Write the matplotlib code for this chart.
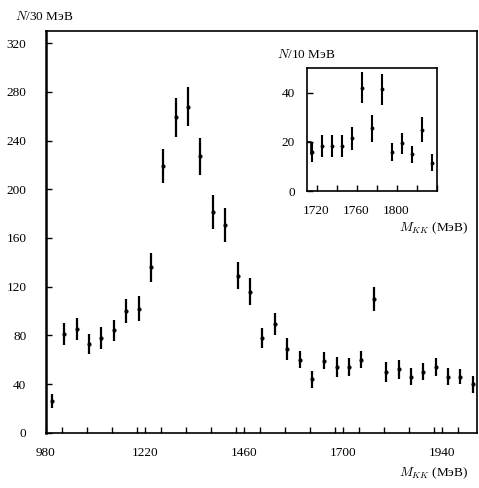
import matplotlib
matplotlib.use('Agg')
import matplotlib.pyplot as plt
from matplotlib.ticker import MultipleLocator, FixedLocator

plt.rcParams['font.family'] = ['Liberation Serif', 'DejaVu Serif']
plt.rcParams['mathtext.fontset'] = 'cm'
plt.rcParams['font.size'] = 9.5

# main spectrum, 30 MeV bins
mass = [995, 1025, 1055, 1085, 1115, 1145, 1175, 1205, 1235, 1265, 1295, 1325,
        1355, 1385, 1415, 1445, 1475, 1505, 1535, 1565, 1595, 1625, 1655, 1685,
        1715, 1745, 1775, 1805, 1835, 1865, 1895, 1925, 1955, 1985, 2015]
counts = [26, 81, 85, 73, 78, 84, 100, 102, 136, 219, 259, 268,
          227, 181, 171, 129, 116, 78, 89, 69, 60, 44, 59, 54,
          54, 60, 110, 50, 52, 46, 50, 54, 46, 46, 40]
errs = [6, 9, 9, 8, 9, 9, 10, 10, 12, 14, 16, 16,
        15, 14, 14, 11, 11, 8, 9, 9, 7, 7, 7, 8,
        7, 7, 10, 8, 8, 7, 7, 7, 7, 6, 7]

# inset, 10 MeV bins
mass_in = [1715, 1725, 1735, 1745, 1755, 1765, 1775, 1785, 1795, 1805, 1815, 1825, 1835]
counts_in = [16, 18.5, 18.5, 18.5, 21.5, 42, 25.5, 41.5, 16, 19.5, 15, 25, 11.5]
errs_in = [4, 4.5, 4.5, 4.5, 4.7, 6.3, 5.5, 6.3, 3.7, 4.3, 3.5, 5, 3.4]
step_x = [1710, 1714, 1714]
step_y = [20, 20, 15]

fig = plt.figure(figsize=(4.79, 4.88), dpi=100)
ax = fig.add_axes([0.0956, 0.1133, 0.900, 0.823])
ax.errorbar(mass, counts, yerr=errs, fmt='o', ms=2, color='black',
            elinewidth=1.6, capsize=0)
ax.set_xlim(980, 2025)
ax.set_ylim(0, 330)
ax.xaxis.set_major_locator(FixedLocator([980, 1220, 1460, 1700, 1940]))
ax.xaxis.set_minor_locator(MultipleLocator(60))
ax.yaxis.set_major_locator(MultipleLocator(40))
ax.tick_params(which='both', direction='in', length=4, width=1, top=False, right=False)
ax.tick_params(axis='x', pad=10)
ax.tick_params(axis='y', pad=14)
for s in ax.spines.values():
    s.set_linewidth(1.2)
ax.spines['left'].set_linewidth(1.8)

fig.text(0.032, 0.966, '$N$/30 МэВ', ha='left', va='center')
fig.text(0.977, 0.030, '$M_{KK}$ (МэВ)', ha='right', va='center')

# inset
axi = fig.add_axes([0.640, 0.6086, 0.2714, 0.2514])
axi.errorbar(mass_in, counts_in, yerr=errs_in, fmt='o', ms=1.8, color='black',
             elinewidth=1.5, capsize=0)
axi.plot(step_x, step_y, color='black', lw=1.2)
axi.set_xlim(1710, 1840)
axi.set_ylim(0, 50)
axi.xaxis.set_major_locator(FixedLocator([1720, 1760, 1800]))
axi.xaxis.set_minor_locator(MultipleLocator(20))
axi.yaxis.set_major_locator(MultipleLocator(20))
axi.tick_params(which='both', direction='in', length=4, width=1, top=False, right=False)
axi.tick_params(axis='x', pad=10)
axi.tick_params(axis='y', pad=8.5)
for s in axi.spines.values():
    s.set_linewidth(1.2)

fig.text(0.578, 0.889, '$N$/10 МэВ', ha='left', va='center')
fig.text(0.977, 0.533, '$M_{KK}$ (МэВ)', ha='right', va='center')

fig.savefig('out.png', dpi=100)
